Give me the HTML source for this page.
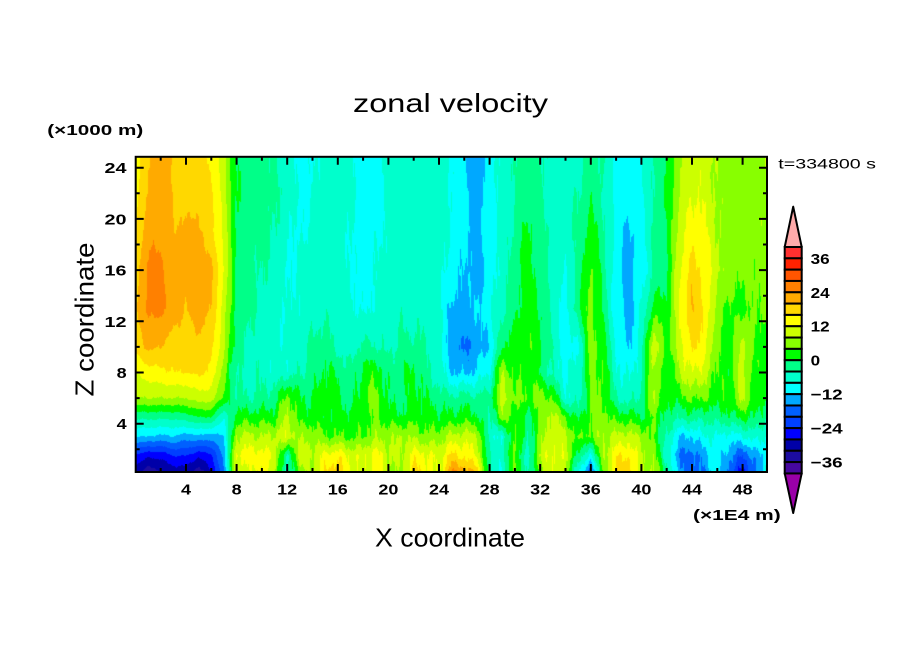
<!DOCTYPE html>
<html><head><meta charset="utf-8">
<style>
html,body{margin:0;padding:0;background:#fff;width:904px;height:654px;overflow:hidden;}
#c{position:absolute;left:136px;top:157px;}
svg{position:absolute;left:0;top:0;}
text{font-family:"Liberation Sans",sans-serif;fill:#000;}
.b{font-weight:bold;font-size:15px;}
.t{font-size:26px;}
</style></head><body>
<canvas id="c" width="631" height="315"></canvas>
<svg width="904" height="654" xmlns="http://www.w3.org/2000/svg">
<rect x="135.7" y="156.8" width="631.3" height="315.2" fill="none" stroke="#000" stroke-width="2"/>
<path stroke="#000" stroke-width="2" fill="none" d="
M186,472V464M236.6,472V464M287.2,472V464M337.8,472V464M388.4,472V464M439,472V464M489.6,472V464M540.2,472V464M590.8,472V464M641.4,472V464M692,472V464M742.6,472V464
M160.7,472V468M211.3,472V468M261.9,472V468M312.5,472V468M363.1,472V468M413.7,472V468M464.3,472V468M514.9,472V468M565.5,472V468M616.1,472V468M666.7,472V468M717.3,472V468
M186,156.8V164.8M236.6,156.8V164.8M287.2,156.8V164.8M337.8,156.8V164.8M388.4,156.8V164.8M439,156.8V164.8M489.6,156.8V164.8M540.2,156.8V164.8M590.8,156.8V164.8M641.4,156.8V164.8M692,156.8V164.8M742.6,156.8V164.8
M160.7,156.8V160.8M211.3,156.8V160.8M261.9,156.8V160.8M312.5,156.8V160.8M363.1,156.8V160.8M413.7,156.8V160.8M464.3,156.8V160.8M514.9,156.8V160.8M565.5,156.8V160.8M616.1,156.8V160.8M666.7,156.8V160.8M717.3,156.8V160.8
M135.7,423.7H143.7M135.7,372.5H143.7M135.7,321.3H143.7M135.7,270.1H143.7M135.7,218.9H143.7M135.7,167.7H143.7
M135.7,449.3H139.7M135.7,398.1H139.7M135.7,346.9H139.7M135.7,295.7H139.7M135.7,244.5H139.7M135.7,193.3H139.7
M767,423.7H759M767,372.5H759M767,321.3H759M767,270.1H759M767,218.9H759M767,167.7H759
M767,449.3H763M767,398.1H763M767,346.9H763M767,295.7H763M767,244.5H763M767,193.3H763"/>
<g class="b">
<text x="181" y="494.3" textLength="10" lengthAdjust="spacingAndGlyphs">4</text>
<text x="231.6" y="494.3" textLength="10" lengthAdjust="spacingAndGlyphs">8</text>
<text x="277.2" y="494.3" textLength="20" lengthAdjust="spacingAndGlyphs">12</text>
<text x="327.8" y="494.3" textLength="20" lengthAdjust="spacingAndGlyphs">16</text>
<text x="378.4" y="494.3" textLength="20" lengthAdjust="spacingAndGlyphs">20</text>
<text x="429" y="494.3" textLength="20" lengthAdjust="spacingAndGlyphs">24</text>
<text x="479.6" y="494.3" textLength="20" lengthAdjust="spacingAndGlyphs">28</text>
<text x="530.2" y="494.3" textLength="20" lengthAdjust="spacingAndGlyphs">32</text>
<text x="580.8" y="494.3" textLength="20" lengthAdjust="spacingAndGlyphs">36</text>
<text x="631.4" y="494.3" textLength="20" lengthAdjust="spacingAndGlyphs">40</text>
<text x="682" y="494.3" textLength="20" lengthAdjust="spacingAndGlyphs">44</text>
<text x="732.6" y="494.3" textLength="20" lengthAdjust="spacingAndGlyphs">48</text>
<text x="104.5" y="173.2" textLength="22" lengthAdjust="spacingAndGlyphs">24</text>
<text x="104.5" y="224.4" textLength="22" lengthAdjust="spacingAndGlyphs">20</text>
<text x="104.5" y="275.6" textLength="22" lengthAdjust="spacingAndGlyphs">16</text>
<text x="104.5" y="326.8" textLength="22" lengthAdjust="spacingAndGlyphs">12</text>
<text x="116.7" y="378" textLength="10" lengthAdjust="spacingAndGlyphs">8</text>
<text x="116.7" y="429.2" textLength="10" lengthAdjust="spacingAndGlyphs">4</text>
<text x="810.7" y="263.8" textLength="19" lengthAdjust="spacingAndGlyphs">36</text>
<text x="810.7" y="297.8" textLength="19" lengthAdjust="spacingAndGlyphs">24</text>
<text x="810.7" y="331.7" textLength="19" lengthAdjust="spacingAndGlyphs">12</text>
<text x="810.7" y="365.7" textLength="9.5" lengthAdjust="spacingAndGlyphs">0</text>
<text x="810.7" y="399.7" textLength="32" lengthAdjust="spacingAndGlyphs">−12</text>
<text x="810.7" y="433.6" textLength="32" lengthAdjust="spacingAndGlyphs">−24</text>
<text x="810.7" y="467.6" textLength="32" lengthAdjust="spacingAndGlyphs">−36</text>
<text x="47.3" y="135" textLength="96" lengthAdjust="spacingAndGlyphs">(×1000 m)</text>
<text x="693" y="520" textLength="87.7" lengthAdjust="spacingAndGlyphs">(×1E4 m)</text>
</g>
<text x="778.3" y="168.3" style="font-size:14px" textLength="97.7" lengthAdjust="spacingAndGlyphs">t=334800 s</text>
<text class="t" x="353" y="112" textLength="195" lengthAdjust="spacingAndGlyphs">zonal velocity</text>
<text class="t" x="375" y="546.7" textLength="150" lengthAdjust="spacingAndGlyphs">X coordinate</text>
<text class="t" transform="translate(93.3,396.5) rotate(-90)" x="0" y="0" textLength="154" lengthAdjust="spacingAndGlyphs">Z coordinate</text>
<polygon points="784.7,247 801.7,247 793.2,206.7" fill="#ffaaaa" stroke="#000" stroke-width="2" stroke-linejoin="round"/>
<polygon points="784.7,473.3 801.7,473.3 793.2,513" fill="#9a00a8" stroke="#000" stroke-width="2" stroke-linejoin="round"/>
<g id="cb" stroke="#000" stroke-width="2"></g>
</svg>
<script>
(function(){
var cols=["#46089e","#1c0ca0","#0000a8","#0000ff","#0040ff","#0060ff","#00a8ff","#00ffff","#00ffcc","#00ff88","#00ff00","#88ff00","#ccff00","#ffff00","#ffd800","#ffaa00","#ff8000","#ff5500","#ff2200","#ff3030"];
var g=document.getElementById('cb'),ns="http://www.w3.org/2000/svg";
for(var i=0;i<20;i++){var r=document.createElementNS(ns,'rect');
r.setAttribute('x',784.7);r.setAttribute('y',(247+11.32*i).toFixed(2));
r.setAttribute('width',17);r.setAttribute('height',11.32);
r.setAttribute('fill',cols[19-i]);g.appendChild(r);}
var rgb=cols.map(function(h){return [parseInt(h.substr(1,2),16),parseInt(h.substr(3,2),16),parseInt(h.substr(5,2),16)];});
var Z=[0.3,1.5,3,4.5,6,8,10,13,16,19,22,25];
var R=[
[-30,-34,-32,-30,-30,-34,-28,-16, 12,10,14,8,-6,6,8,16,19,12,10,14,8,6,18,14,10, 24,22,18,-4,-8,6,-6,6,12,8,-8,-18,4,18,19,8,8,-2,-14,-18,-15,-9,-18,-26,-16,-8],
[-25,-27,-27,-24,-24,-27,-25,-14, 13,14,14,11,-6,11,9,13,15,11,11,14,9,8,14,13,11, 17,15,12,-4,-6,6,-8,9,13,10,-2,-8,7,15,16,9,6,-6,-16,-18,-14,-9,-15,-20,-14,-10],
[-12,-12,-13,-12,-14,-13,-14,-12, 8,9,8,9,11,7,7,4,4,3,4,7,7,8,7,5,6, 9,10,9,-6,-8,5,-4,6,11,9,3,5,8,9,10,7,3,-4,-12,-12,-8,-8,-10,-8,-6,-8],
[-3,-3,-3,-3,-2,0,0,-8, 2,2,2,2,9,2,2,1,1,2,2,4,2,1,2,2,1, 1,2,1,-5,6,3,-2,5,10,4,-1,4,6,2,2,0,4,-2,-3,-2,-3,-2,-1,1,0,-4],
[8,8,8,8,8,10,10,3, -3,-4,-3,-2,6,0,0,3,1,-3,3,6,-1,-2,2,0,-2, -3,-2,-3,-2,10,5,4,6,4,-7,-6,4,5,-4,-6,-3,9,1,2,5,4,2,3,9,2,0],
[12,14,15,16,16,17,15,6, -4,-6,-5,-7,-6,-4,-3,1,-1,-3,1,3,-2,-1,1,-3,-6, -12,-13,-11,-8,8,2,3,0,-6,-9,-6,5,4,-7,-9,-5,9,0,8,12,10,3,2,10,2,2],
[17,21,20,18,18,19,17,9, -3,-5,-6,-8,-7,-6,-3,-2,-5,-6,-3,-4,-5,-3,-3,-4,-6, -15,-17,-14,-12,0,2,4,1,-4,-10,-9,6,2,-8,-13,-6,12,2,10,17,14,4,2,10,3,3],
[19,25,25,22,20,22,20,10, -2,-3,-5,-6,-8,-7,-6,-5,-6,-7,-9,-7,-5,-5,-6,-5,-7, -13,-13,-12,-9,-5,-1,3,0,-6,-10,-1,6,-1,-11,-14,-8,2,1,12,20.5,16,6,3,3,4,6],
[18,25,25,22,21,22,21,12, -1,-3,-4,-5,-9,-7,-6,-6,-6,-8,-10,-8,-6,-6,-6,-6,-6, -10,-12,-14,-10,-6,-2,2,-1,-5,-9,-2,5,-2,-10,-14,-10,-4,-1,12,18,15,9,6,5,5,6],
[16,23,23,20,21,21,17,11, -1,-2,-3,-4,-7,-9,-7,-6,-6,-8,-10,-9,-7,-6,-6,-6,-6, -9,-11,-14,-10,-6,-3,1,-2,-5,-6,-3,2,-3,-10,-13,-10,-3,-1,10,14,13,8,6,6,6,7],
[15,20,22,20,18,19,17,10, 0,-2,-2,-3,-6,-9,-8,-6,-6,-7,-10,-10,-7,-6,-6,-6,-6, -8,-11,-14,-10,-7,-4,-1,-3,-6,-6,-4,-1,-4,-9,-10,-9,-3,0,8,12,11,7,6,6,6,8],
[14,19.5,23,20,18,18,15,9, -0.5,-2,-3,-4,-7,-9,-9,-6,-6,-7,-10,-10,-7,-6,-6,-5,-6, -8,-11,-14,-10,-7,-4,-2,-3,-6,-6,-5,-2,-4,-9,-10,-9,-3,0,7,10,10,7,6,6,6,9]
];
function f(x,z){
 var xi=Math.floor(x);if(xi<0)xi=0;if(xi>49)xi=49;var fx=x-xi;if(fx<0)fx=0;if(fx>1)fx=1;
 var k=0;while(k<Z.length-2&&z>Z[k+1])k++;var fz=(z-Z[k])/(Z[k+1]-Z[k]);if(fz<0)fz=0;if(fz>1)fz=1;
 var a=R[k][xi]*(1-fx)+R[k][xi+1]*fx,b=R[k+1][xi]*(1-fx)+R[k+1][xi+1]*fx;
 return a*(1-fz)+b*fz;
}
var cv=document.getElementById('c'),ctx=cv.getContext('2d');
var W=631,H=315,img=ctx.createImageData(W,H),d=img.data;
for(var j=0;j<H;j++){
 var iy=157+j+0.5,z=(474.9-iy)/12.8;
 for(var i=0;i<W;i++){
  var ix=136+i+0.5,x=(ix-135.4)/12.65;
  var u=f(x,z);
  var amp=x<7.3?0.5:(z<9?2.0:1.2);
  var n=Math.sin(x*4.3+z*0.45)*0.5+Math.sin(x*9.7-z*0.8+2.1)*0.35+Math.sin(x*19.3+z*1.3+0.7)*0.25+Math.sin(x*37+z*0.6)*0.15;
  u+=amp*n;
  var c=Math.floor((u+40)/4);if(c<0)c=0;if(c>19)c=19;
  var p=(j*W+i)*4,q=rgb[c];d[p]=q[0];d[p+1]=q[1];d[p+2]=q[2];d[p+3]=255;
 }
}
ctx.putImageData(img,0,0);
})();
</script>
</body></html>
